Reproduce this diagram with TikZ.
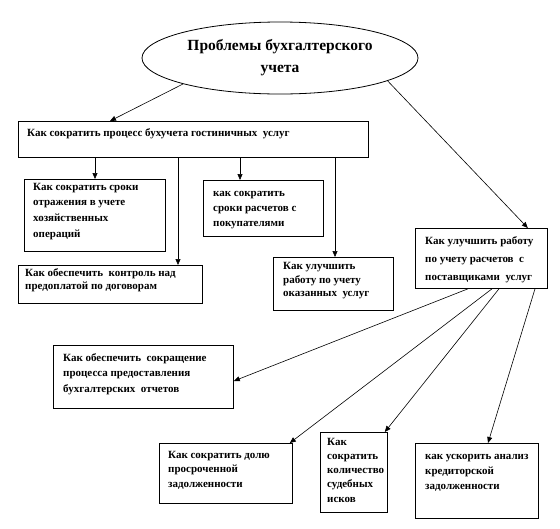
\documentclass[tikz,border=0pt]{standalone}
\usepackage{fontspec}
\setmainfont{Liberation Serif}
\usetikzlibrary{shapes.geometric,arrows.meta,calc}
\tikzset{
  box/.style={draw,line width=0.8pt,rectangle,anchor=north west,inner sep=0pt},
  txt/.style={anchor=north west,inner sep=0pt,align=left,font=\bfseries\fontsize{11}{#1}\selectfont},
  txt/.default=15,
  arr/.style={line width=0.6pt,-{Triangle[length=6pt,width=5pt]}},
}
\begin{document}
\begin{tikzpicture}[x=1pt,y=-1pt]
\useasboundingbox (0,0) rectangle (560,528);
\node[draw,ellipse,line width=0.8pt,minimum width=276pt,minimum height=72pt,align=center,
  font=\bfseries\fontsize{15.5}{22}\selectfont] (ell) at (280,58) {Проблемы бухгалтерского\\учета};

\node[box,minimum width=350pt,minimum height=36pt] (top) at (18,121) {};
\node[box,minimum width=141pt,minimum height=72pt] (b1) at (24,179) {};
\node[box,minimum width=120pt,minimum height=56pt] (b2) at (203,180) {};
\node[box,minimum width=184pt,minimum height=38pt] (b3) at (18,265) {};
\node[box,minimum width=120pt,minimum height=53pt] (b4) at (273,257) {};
\node[box,minimum width=132pt,minimum height=60pt] (b5) at (415,228) {};
\node[box,minimum width=180pt,minimum height=63pt] (b6) at (53,345) {};
\node[box,minimum width=133pt,minimum height=60pt] (b7) at (159,443) {};
\node[box,minimum width=67pt,minimum height=80pt] (b8) at (320,432) {};
\node[box,minimum width=123pt,minimum height=75pt] (b9) at (415,443) {};

\node[txt] (t0) at ($(top.north west)+(9,5)$) {\strut Как сократить процесс бухучета гостиничных\ \ услуг};
\node[txt=15.7] (t1) at ($(b1.north west)+(9,0)$) {\strut Как сократить сроки\\отражения в учете\\хозяйственных\\операций};
\node[txt=15] (t2) at ($(b2.north west)+(10,6)$) {\strut как сократить\\сроки расчетов с\\покупателями};
\node[txt=13] (t3) at ($(b3.north west)+(7,2)$) {\strut Как обеспечить\ \ контроль над\\предоплатой по договорам};
\node[txt=13.5] (t4) at ($(b4.north west)+(10,3)$) {\strut Как улучшить\\работу по учету\\оказанных\ \ услуг};
\node[txt=18] (t5) at ($(b5.north west)+(10,4)$) {\strut Как улучшить работу\\по учету расчетов\ \ с\\поставщиками\ \ услуг};
\node[txt=15.5] (t6) at ($(b6.north west)+(10,5)$) {\strut Как обеспечить\ \ сокращение\\процесса предоставления\\бухгалтерских\ \ отчетов};
\node[txt=14.5] (t7) at ($(b7.north west)+(9,5)$) {\strut Как сократить долю\\просроченной\\задолженности};
\node[txt=14.25] (t8) at ($(b8.north west)+(7,3)$) {\strut Как\\сократить\\количество\\судебных\\исков};
\node[txt=15] (t9) at ($(b9.north west)+(10,6)$) {\strut как ускорить анализ\\кредиторской\\задолженности};

\draw[arr] (ell.195) -- ($(top.north west)+(92,0)$);
\draw[arr] (ell.348) -- ($(b5.north east)+(-20,0)$);

\draw[arr] ($(top.south west)+(77,0)$) -- (b1.north -| {$(top.south west)+(77,0)$});
\draw[arr] ($(top.south west)+(160,0)$) -- (b3.north -| {$(top.south west)+(160,0)$});
\draw[arr] ($(top.south west)+(222,0)$) -- (b2.north -| {$(top.south west)+(222,0)$});
\draw[arr] ($(top.south west)+(317,0)$) -- (b4.north -| {$(top.south west)+(317,0)$});

\draw[arr] ($(b5.south west)+(53,0)$) -- ($(b6.north east)+(0,36)$);
\draw[arr] ($(b5.south west)+(77,0)$) -- ($(b7.north east)+(-3,0)$);
\draw[arr] ($(b5.south west)+(84,0)$) -- ($(b8.north east)+(-3,0)$);
\draw[arr] ($(b5.south west)+(120,0)$) -- ($(b9.north west)+(73,0)$);
\end{tikzpicture}
\end{document}
